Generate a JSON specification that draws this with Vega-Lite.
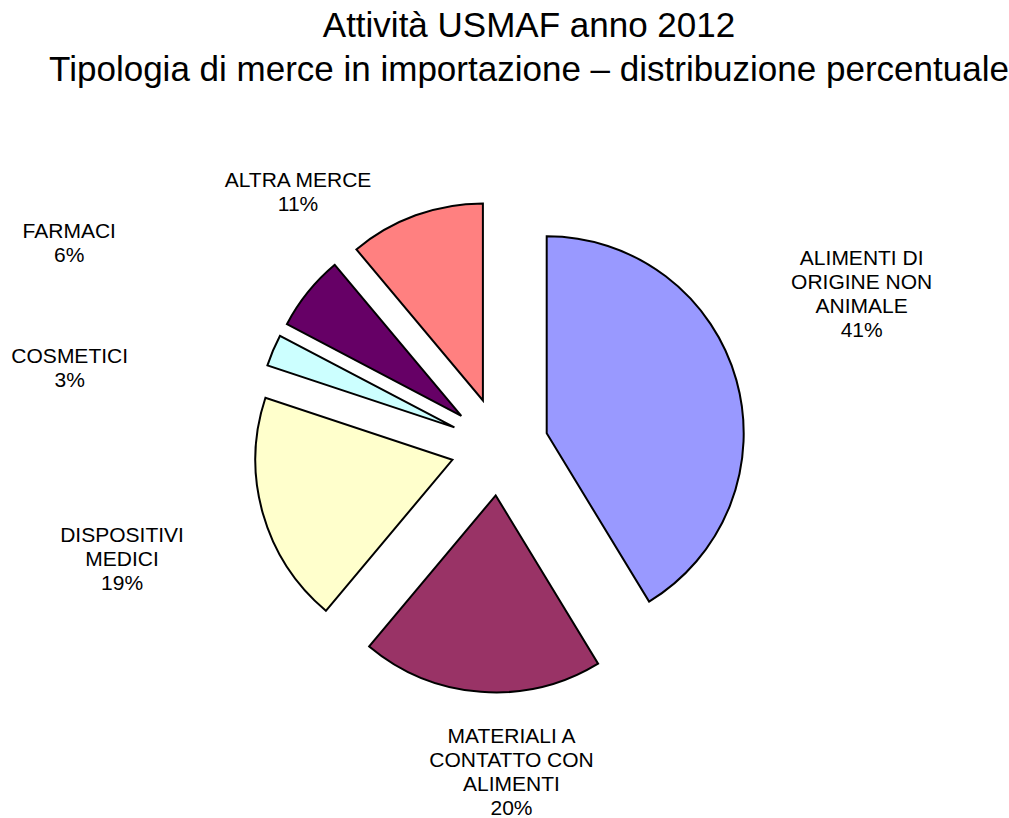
{
  "$schema": "https://vega.github.io/schema/vega-lite/v6.json",
  "width": 999,
  "height": 653,
  "autosize": {"type": "none"},
  "padding": {"left": 0, "top": 120, "right": 10, "bottom": 45},
  "background": "white",
  "title": {
    "text": ["Attività USMAF anno 2012", "Tipologia di merce in importazione – distribuzione percentuale"],
    "font": "Liberation Sans",
    "fontSize": 35,
    "fontWeight": "normal",
    "color": "black",
    "lineHeight": 44,
    "anchor": "middle",
    "frame": "group",
    "baseline": "bottom",
    "offset": -3,
    "dx": 29.5
  },
  "data": {
    "values": [
      {"cat": "ALIMENTI DI ORIGINE NON ANIMALE", "value": 41.3, "label": "ALIMENTI DI\nORIGINE NON\nANIMALE\n41%"},
      {"cat": "MATERIALI A CONTATTO CON ALIMENTI", "value": 19.8, "label": "MATERIALI A\nCONTATTO CON\nALIMENTI\n20%"},
      {"cat": "DISPOSITIVI MEDICI", "value": 19.0, "label": "DISPOSITIVI\nMEDICI\n19%"},
      {"cat": "COSMETICI", "value": 2.6, "label": "COSMETICI\n3%"},
      {"cat": "FARMACI", "value": 6.2, "label": "FARMACI\n6%"},
      {"cat": "ALTRA MERCE", "value": 11.1, "label": "ALTRA MERCE\n11%"}
    ]
  },
  "layer": [
    {
      "transform": [{"stack": "value", "groupby": [], "as": ["v0", "v1"]}, {"filter": "datum.cat === 'ALIMENTI DI ORIGINE NON ANIMALE'"}],
      "mark": {"type": "arc", "radius": 197, "xOffset": 47.2, "yOffset": -13.2, "fill": "#9999FF", "stroke": "black", "strokeWidth": 2},
      "encoding": {"theta": {"field": "v0", "type": "quantitative", "scale": {"domain": [0, 100]}}, "theta2": {"field": "v1"}}
    },
    {
      "transform": [{"stack": "value", "groupby": [], "as": ["v0", "v1"]}, {"filter": "datum.cat === 'MATERIALI A CONTATTO CON ALIMENTI'"}],
      "mark": {"type": "arc", "radius": 197, "xOffset": -3.8, "yOffset": 48.9, "fill": "#993366", "stroke": "black", "strokeWidth": 2},
      "encoding": {"theta": {"field": "v0", "type": "quantitative", "scale": {"domain": [0, 100]}}, "theta2": {"field": "v1"}}
    },
    {
      "transform": [{"stack": "value", "groupby": [], "as": ["v0", "v1"]}, {"filter": "datum.cat === 'DISPOSITIVI MEDICI'"}],
      "mark": {"type": "arc", "radius": 197, "xOffset": -47.1, "yOffset": 13.3, "fill": "#FFFFCC", "stroke": "black", "strokeWidth": 2},
      "encoding": {"theta": {"field": "v0", "type": "quantitative", "scale": {"domain": [0, 100]}}, "theta2": {"field": "v1"}}
    },
    {
      "transform": [{"stack": "value", "groupby": [], "as": ["v0", "v1"]}, {"filter": "datum.cat === 'COSMETICI'"}],
      "mark": {"type": "arc", "radius": 197, "xOffset": -45.1, "yOffset": -19.1, "fill": "#CCFFFF", "stroke": "black", "strokeWidth": 2},
      "encoding": {"theta": {"field": "v0", "type": "quantitative", "scale": {"domain": [0, 100]}}, "theta2": {"field": "v1"}}
    },
    {
      "transform": [{"stack": "value", "groupby": [], "as": ["v0", "v1"]}, {"filter": "datum.cat === 'FARMACI'"}],
      "mark": {"type": "arc", "radius": 197, "xOffset": -38.2, "yOffset": -30.7, "fill": "#660066", "stroke": "black", "strokeWidth": 2},
      "encoding": {"theta": {"field": "v0", "type": "quantitative", "scale": {"domain": [0, 100]}}, "theta2": {"field": "v1"}}
    },
    {
      "transform": [{"stack": "value", "groupby": [], "as": ["v0", "v1"]}, {"filter": "datum.cat === 'ALTRA MERCE'"}],
      "mark": {"type": "arc", "radius": 197, "xOffset": -16.6, "yOffset": -46.1, "fill": "#FF8080", "stroke": "black", "strokeWidth": 2},
      "encoding": {"theta": {"field": "v0", "type": "quantitative", "scale": {"domain": [0, 100]}}, "theta2": {"field": "v1"}}
    },
    {
      "transform": [{"stack": "value", "groupby": [], "as": ["v0", "v1"]}, {"filter": "datum.cat === 'ALIMENTI DI ORIGINE NON ANIMALE'"}],
      "mark": {"type": "text", "radius": 181.5, "dx": 362.2, "dy": 0, "font": "Liberation Sans", "fontSize": 21, "lineHeight": 24, "lineBreak": "\n", "align": "center", "baseline": "alphabetic", "color": "black"},
      "encoding": {"theta": {"field": "v0", "type": "quantitative", "scale": {"domain": [0, 100]}}, "text": {"field": "label", "type": "nominal"}}
    },
    {
      "transform": [{"stack": "value", "groupby": [], "as": ["v0", "v1"]}, {"filter": "datum.cat === 'MATERIALI A CONTATTO CON ALIMENTI'"}],
      "mark": {"type": "text", "radius": 259.3, "dx": -122.8, "dy": 74.7, "font": "Liberation Sans", "fontSize": 21, "lineHeight": 24, "lineBreak": "\n", "align": "center", "baseline": "alphabetic", "color": "black"},
      "encoding": {"theta": {"field": "v0", "type": "quantitative", "scale": {"domain": [0, 100]}}, "text": {"field": "label", "type": "nominal"}}
    },
    {
      "transform": [{"stack": "value", "groupby": [], "as": ["v0", "v1"]}, {"filter": "datum.cat === 'DISPOSITIVI MEDICI'"}],
      "mark": {"type": "text", "radius": 315.4, "dx": -174.9, "dy": -146.6, "font": "Liberation Sans", "fontSize": 21, "lineHeight": 24, "lineBreak": "\n", "align": "center", "baseline": "alphabetic", "color": "black"},
      "encoding": {"theta": {"field": "v0", "type": "quantitative", "scale": {"domain": [0, 100]}}, "text": {"field": "label", "type": "nominal"}}
    },
    {
      "transform": [{"stack": "value", "groupby": [], "as": ["v0", "v1"]}, {"filter": "datum.cat === 'COSMETICI'"}],
      "mark": {"type": "text", "radius": 434.1, "dx": -17.8, "dy": 53.5, "font": "Liberation Sans", "fontSize": 21, "lineHeight": 24, "lineBreak": "\n", "align": "center", "baseline": "alphabetic", "color": "black"},
      "encoding": {"theta": {"field": "v0", "type": "quantitative", "scale": {"domain": [0, 100]}}, "text": {"field": "label", "type": "nominal"}}
    },
    {
      "transform": [{"stack": "value", "groupby": [], "as": ["v0", "v1"]}, {"filter": "datum.cat === 'FARMACI'"}],
      "mark": {"type": "text", "radius": 477.7, "dx": -7.4, "dy": 14.0, "font": "Liberation Sans", "fontSize": 21, "lineHeight": 24, "lineBreak": "\n", "align": "center", "baseline": "alphabetic", "color": "black"},
      "encoding": {"theta": {"field": "v0", "type": "quantitative", "scale": {"domain": [0, 100]}}, "text": {"field": "label", "type": "nominal"}}
    },
    {
      "transform": [{"stack": "value", "groupby": [], "as": ["v0", "v1"]}, {"filter": "datum.cat === 'ALTRA MERCE'"}],
      "mark": {"type": "text", "radius": 328.5, "dx": 9.5, "dy": -8.0, "font": "Liberation Sans", "fontSize": 21, "lineHeight": 24, "lineBreak": "\n", "align": "center", "baseline": "alphabetic", "color": "black"},
      "encoding": {"theta": {"field": "v0", "type": "quantitative", "scale": {"domain": [0, 100]}}, "text": {"field": "label", "type": "nominal"}}
    }
  ],
  "config": {"view": {"stroke": null}}
}
